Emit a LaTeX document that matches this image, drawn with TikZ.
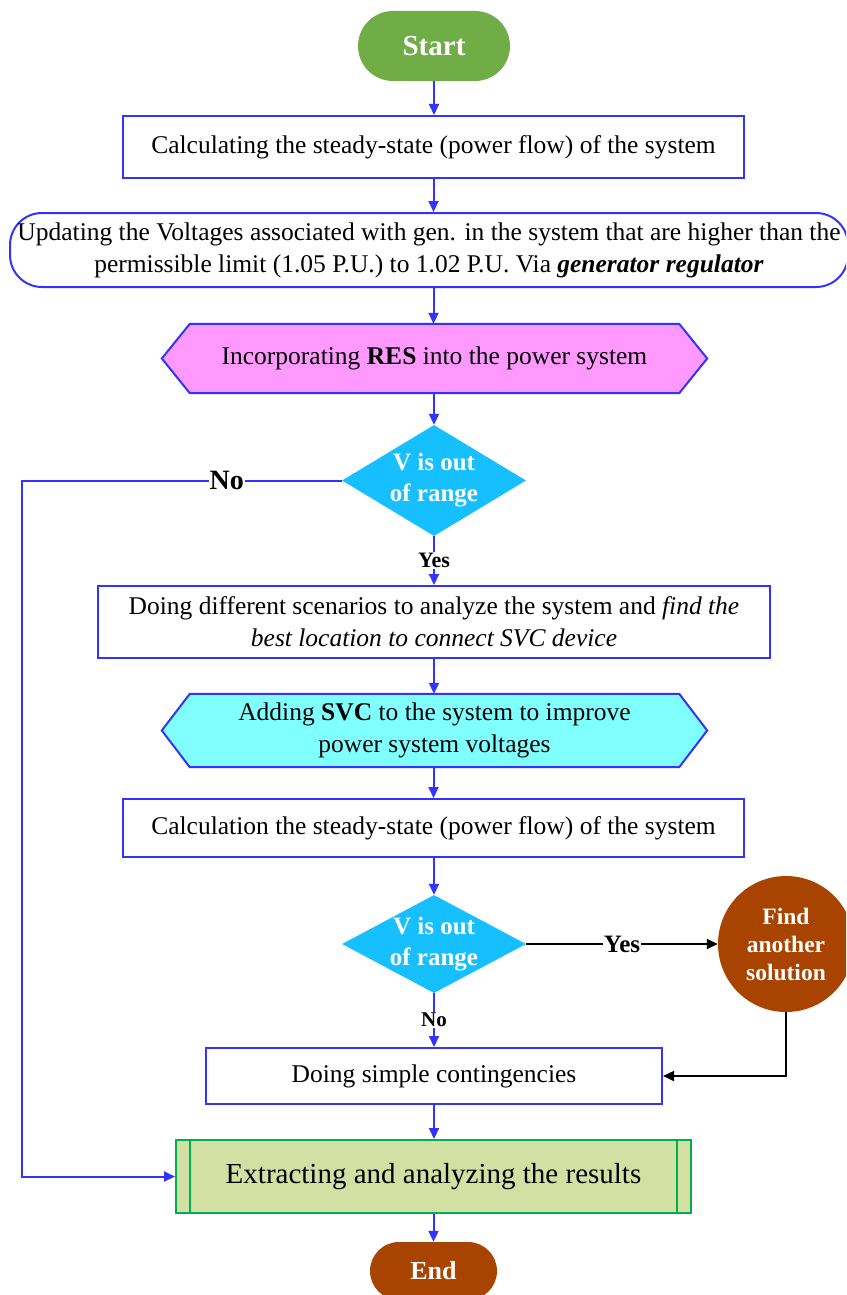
\documentclass[tikz,border=0pt]{standalone}
\usepackage{fontspec}
\setmainfont{Liberation Serif}
\usetikzlibrary{arrows.meta,backgrounds,shapes.geometric,shapes.misc}
\definecolor{lineblue}{RGB}{51,51,255}
\definecolor{startgreen}{RGB}{112,173,71}
\definecolor{respink}{RGB}{255,153,255}
\definecolor{diacyan}{RGB}{22,191,255}
\definecolor{svccyan}{RGB}{128,255,255}
\definecolor{endbrown}{RGB}{169,67,0}
\definecolor{finfill}{RGB}{211,224,164}
\definecolor{fingreen}{RGB}{0,176,80}
\newcommand{\bodyfs}{\fontsize{25.5}{32}\selectfont}
\newcommand{\narrowline}[1]{\makebox[40pt]{#1}}
\begin{document}
\begin{tikzpicture}[x=1pt,y=-1pt,
  procbox/.style={draw=lineblue, line width=2pt, fill=white, inner sep=0pt, align=center, font=\bodyfs},
  terminal/.style={rounded rectangle, inner sep=0pt, text=white, font=\fontsize{29}{32}\selectfont\bfseries},
  decision/.style={diamond, fill=diacyan, inner sep=0pt, text=white, align=center, font=\fontsize{25}{31}\selectfont\bfseries},
  hexbox/.style={inner sep=0pt, align=center, font=\bodyfs},
  hexline/.style={draw=lineblue, line width=2pt},
  arr/.style={draw=lineblue, line width=2pt, -{Triangle[length=11pt,width=10pt]}},
  barr/.style={draw=black, line width=1.5pt, -{Triangle[length=11pt,width=10pt]}},
  lbl/.style={fill=white, inner sep=1pt, font=\fontsize{22}{24}\selectfont\bfseries}
]
\useasboundingbox (0,0) rectangle (846,1295);
\clip (0,0) rectangle (846,1295);

\node[terminal, fill=startgreen, minimum width=152pt, minimum height=70pt] (start) at (434,46) {Start};

\node[procbox, minimum width=621pt, minimum height=62pt] (b1) at (433.5,147)
  {Calculating the steady-state (power flow) of the system};

\node[procbox, rounded corners=32pt, minimum width=838pt, minimum height=74pt] (b2) at (429,250)
  {Updating the Voltages associated with gen. in the system that are higher than the\\
   permissible limit (1.05 P.U.) to 1.02 P.U. Via \textbf{\textit{generator regulator}}};

\node[hexbox, minimum width=545pt, minimum height=69pt] (h1) at (434.5,358.5)
  {Incorporating \textbf{RES} into the power system};

\node[decision, minimum width=184pt, minimum height=111pt, aspect=1.66] (d1) at (434,480.5)
  {\narrowline{V is out}\\\narrowline{of range}};

\node[procbox, minimum width=672pt, minimum height=72pt] (b3) at (434,622)
  {Doing different scenarios to analyze the system and \textit{find the}\\
   \textit{best location to connect SVC device}};

\node[hexbox, minimum width=545pt, minimum height=73pt] (h2) at (434.5,730.5)
  {Adding \textbf{SVC} to the system to improve\\power system voltages};

\node[procbox, minimum width=621pt, minimum height=58pt] (b4) at (433.5,828)
  {Calculation the steady-state (power flow) of the system};

\node[decision, minimum width=184pt, minimum height=98pt, aspect=1.88] (d2) at (434,944)
  {\narrowline{V is out}\\\narrowline{of range}};

\node[circle, fill=endbrown, minimum size=136pt, inner sep=0pt, text=white, align=center,
  font=\fontsize{23.5}{28}\selectfont\bfseries] (sol) at (786,944) {Find\\another\\solution};

\node[procbox, minimum width=456pt, minimum height=56pt] (b5) at (434,1076)
  {Doing simple contingencies};

\node[draw=fingreen, fill=finfill, line width=2pt, minimum width=515pt, minimum height=73pt,
  inner sep=0pt, font=\fontsize{29}{34}\selectfont] (fin) at (433.5,1176.5)
  {Extracting and analyzing the results};
\draw[draw=fingreen, line width=2pt] ([xshift=15pt]fin.north west) -- ([xshift=15pt]fin.south west);
\draw[draw=fingreen, line width=2pt] ([xshift=-15pt]fin.north east) -- ([xshift=-15pt]fin.south east);

\node[terminal, fill=endbrown, minimum width=127pt, minimum height=58pt,
  font=\fontsize{26}{28}\selectfont\bfseries] (endn) at (433.5,1271) {End};

\begin{scope}[on background layer]
  \draw[hexline, fill=respink] (h1.west) -- ([xshift=28pt]h1.north west) -- ([xshift=-28pt]h1.north east)
    -- (h1.east) -- ([xshift=-28pt]h1.south east) -- ([xshift=28pt]h1.south west) -- cycle;
  \draw[hexline, fill=svccyan] (h2.west) -- ([xshift=28pt]h2.north west) -- ([xshift=-28pt]h2.north east)
    -- (h2.east) -- ([xshift=-28pt]h2.south east) -- ([xshift=28pt]h2.south west) -- cycle;
\end{scope}

\coordinate (lc1) at (22,480.5);
\coordinate (lc2) at (22,1176.5);

\draw[arr] (start.south) -- (start.south |- b1.north);
\draw[arr] (b1.south) -- (b1.south |- b2.north);
\draw[arr] (b2.south -| b1.south) -- (b1.south |- h1.north);
\draw[arr] (h1.south -| d1.north) -- (d1.north);
\draw[arr] (d1.south) -- node[lbl]{Yes} (b3.north);
\draw[arr] (b3.south) -- (b3.south |- h2.north);
\draw[arr] (h2.south -| b4.north) -- (b4.north);
\draw[arr] (b4.south -| d2.north) -- (d2.north);
\draw[arr] (d2.south) -- node[lbl, font=\fontsize{21}{24}\selectfont\bfseries]{No} (b5.north);
\draw[arr] (b5.south) -- (b5.south |- fin.north);
\draw[arr] (fin.south) -- (fin.south |- endn.north);
\draw[arr] (d1.west) -- node[lbl, pos=0.36, font=\fontsize{28}{30}\selectfont\bfseries]{No} (lc1) -- (lc2) -- (fin.west);
\draw[barr] (d2.east) -- node[lbl, font=\fontsize{25}{28}\selectfont\bfseries]{Yes} (sol.west);
\draw[barr] (sol.south) |- (b5.east);
\end{tikzpicture}
\end{document}
